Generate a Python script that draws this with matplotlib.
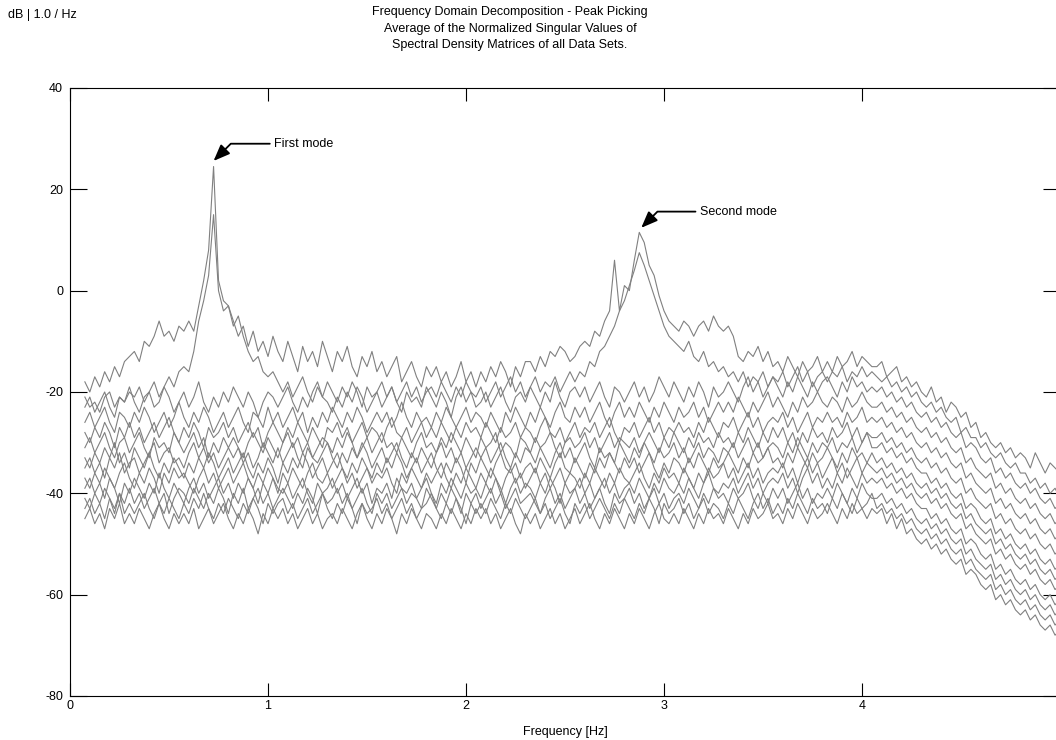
import numpy as np
import matplotlib
matplotlib.use("Agg")
import matplotlib.pyplot as plt

# Frequency grid of the averaged singular value spectra [Hz]
freq_start = 0.075
freq_step = 0.025

# First singular value (both modes)
sv_1 = [
    -18, -20, -17, -19, -16, -18, -15, -17, -14, -13,
    -12, -14, -10, -11, -9, -6, -9, -8, -10, -7,
    -8, -6, -8, -3, 2, 8, 24.5, 2, -2, -3,
    -6, -9, -7, -11, -8, -12, -10, -13, -9, -12,
    -14, -10, -13, -16, -11, -14, -12, -15, -10, -13,
    -16, -12, -14, -11, -15, -17, -13, -15, -12, -16,
    -14, -17, -15, -13, -18, -16, -14, -17, -19, -15,
    -17, -15, -18, -16, -19, -17, -14, -18, -16, -19,
    -16, -18, -15, -17, -14, -16, -19, -15, -17, -14,
    -14, -16, -13, -15, -12, -13, -11, -12, -14, -13,
    -11, -10, -11, -8, -9, -6, -4, 6, -4, 1,
    0, 6, 11.5, 9.5, 5, 3, -1, -4, -6, -7,
    -8, -6, -7, -9, -7, -6, -8, -5, -7, -8,
    -7, -9, -13, -14, -12, -13, -11, -14, -12, -15,
    -14, -16, -13, -15, -17, -14, -16, -15, -13, -16,
    -14, -16, -13, -15, -14, -12, -15, -13, -14, -15,
    -15, -14, -17, -16, -15, -18, -17, -19, -18, -20,
    -21, -19, -22, -21, -24, -22, -23, -25, -24, -27,
    -26, -29, -28, -30, -31, -30, -32, -31, -33, -32,
    -33, -35, -32, -34, -36, -34, -35, -36]

# Second singular value
sv_2 = [
    -21, -23, -22, -24, -21, -20, -23, -21, -22, -20,
    -21, -19, -22, -20, -18, -21, -19, -17, -19, -16,
    -15, -16, -12, -6, -2, 3, 15, 0, -4, -3,
    -7, -5, -9, -12, -14, -13, -16, -17, -16, -18,
    -20, -18, -21, -19, -17, -20, -22, -19, -21, -18,
    -20, -22, -19, -21, -18, -20, -23, -19, -21, -20,
    -18, -21, -19, -22, -20, -18, -21, -19, -22, -20,
    -19, -21, -18, -20, -22, -19, -21, -18, -20, -21,
    -19, -22, -20, -18, -21, -19, -17, -20, -18, -21,
    -19, -17, -20, -18, -19, -17, -20, -18, -16, -18,
    -16, -17, -14, -15, -12, -11, -9, -7, -4, -2,
    1, 4, 7.5, 5, 2, -1, -4, -7, -9, -10,
    -11, -12, -10, -13, -14, -12, -15, -14, -16, -15,
    -17, -16, -18, -16, -19, -17, -18, -16, -19, -17,
    -18, -16, -19, -17, -15, -18, -16, -19, -17, -16,
    -18, -16, -17, -15, -18, -16, -17, -15, -17, -16,
    -17, -18, -17, -19, -18, -20, -19, -21, -20, -22,
    -23, -22, -24, -23, -25, -26, -25, -28, -27, -29,
    -29, -31, -30, -32, -33, -32, -34, -35, -34, -36,
    -36, -38, -37, -39, -38, -40, -39, -41]

# Remaining singular values (noise floor)
sv_3 = [
    -23, -21, -24, -22, -20, -23, -25, -21, -22, -19,
    -22, -24, -21, -20, -23, -22, -19, -21, -24, -22,
    -20, -23, -21, -18, -22, -24, -21, -23, -20, -22,
    -19, -21, -23, -20, -22, -25, -22, -20, -21, -23,
    -21, -19, -22, -24, -21, -23, -20, -18, -21, -22,
    -24, -21, -23, -20, -22, -19, -21, -24, -22, -20,
    -23, -21, -19, -22, -24, -20, -22, -21, -23, -19,
    -21, -23, -20, -22, -25, -21, -19, -22, -20, -23,
    -22, -20, -23, -21, -19, -22, -24, -21, -20, -22,
    -19, -21, -23, -20, -22, -18, -21, -23, -20, -19,
    -21, -19, -22, -20, -18, -21, -23, -19, -20, -22,
    -20, -18, -21, -19, -22, -20, -17, -19, -21, -18,
    -20, -22, -19, -21, -18, -20, -23, -19, -21, -20,
    -18, -20, -22, -19, -17, -20, -18, -21, -19, -17,
    -19, -21, -18, -20, -17, -19, -21, -18, -20, -18,
    -17, -19, -21, -18, -20, -17, -19, -18, -20, -19,
    -20, -19, -21, -20, -22, -21, -23, -22, -24, -25,
    -24, -26, -25, -27, -26, -28, -29, -28, -31, -30,
    -31, -33, -34, -33, -36, -35, -37, -36, -38, -39,
    -38, -40, -39, -41, -42, -41, -43, -42]

sv_4 = [
    -26, -24, -27, -25, -23, -26, -28, -24, -25, -27,
    -24, -26, -23, -25, -28, -26, -24, -27, -25, -22,
    -25, -27, -24, -26, -23, -25, -28, -26, -24, -27,
    -25, -23, -26, -28, -24, -25, -27, -23, -26, -24,
    -27, -25, -23, -26, -24, -28, -25, -27, -24, -26,
    -23, -25, -27, -24, -26, -23, -25, -28, -26, -24,
    -26, -24, -27, -25, -22, -25, -27, -24, -26, -25,
    -27, -24, -26, -23, -25, -27, -25, -23, -26, -24,
    -25, -27, -24, -26, -28, -24, -26, -23, -25, -27,
    -24, -26, -23, -25, -27, -24, -22, -25, -26, -23,
    -25, -23, -26, -24, -22, -25, -27, -24, -22, -25,
    -23, -25, -22, -24, -26, -23, -25, -22, -24, -26,
    -23, -25, -24, -22, -25, -23, -26, -24, -22, -24,
    -22, -24, -21, -23, -25, -22, -24, -22, -20, -23,
    -21, -23, -25, -22, -24, -21, -23, -22, -20, -22,
    -23, -21, -22, -24, -21, -23, -22, -20, -22, -23,
    -23, -22, -24, -23, -25, -24, -26, -25, -27, -28,
    -27, -29, -28, -30, -29, -31, -32, -31, -34, -33,
    -35, -36, -37, -36, -39, -38, -40, -39, -41, -42,
    -41, -43, -42, -44, -45, -44, -46, -45]

sv_5 = [
    -28, -30, -27, -29, -26, -28, -31, -27, -29, -26,
    -29, -27, -30, -28, -26, -29, -27, -25, -28, -30,
    -27, -29, -26, -28, -31, -27, -29, -28, -26, -29,
    -27, -30, -28, -26, -29, -27, -31, -28, -26, -28,
    -30, -27, -29, -26, -28, -30, -27, -29, -31, -27,
    -28, -26, -29, -27, -30, -28, -26, -29, -27, -28,
    -30, -27, -25, -28, -29, -27, -30, -28, -26, -29,
    -27, -29, -26, -28, -30, -27, -29, -26, -28, -27,
    -29, -26, -28, -30, -27, -29, -28, -26, -29, -27,
    -28, -30, -27, -25, -28, -29, -27, -30, -28, -26,
    -29, -27, -28, -26, -29, -27, -25, -28, -30, -27,
    -28, -26, -29, -27, -25, -28, -26, -29, -27, -28,
    -26, -28, -27, -29, -26, -28, -25, -27, -29, -26,
    -27, -25, -28, -26, -24, -27, -25, -28, -26, -25,
    -26, -24, -27, -25, -28, -26, -24, -27, -25, -26,
    -24, -26, -25, -27, -24, -26, -25, -23, -26, -25,
    -26, -25, -27, -26, -28, -27, -29, -28, -30, -31,
    -30, -32, -31, -33, -32, -34, -35, -34, -37, -36,
    -38, -39, -40, -39, -42, -41, -43, -42, -44, -45,
    -44, -46, -45, -47, -48, -47, -49, -48]

sv_6 = [
    -31, -29, -32, -30, -28, -31, -33, -30, -29, -32,
    -30, -28, -31, -33, -29, -31, -30, -32, -28, -30,
    -32, -30, -28, -31, -29, -33, -30, -32, -29, -31,
    -29, -31, -33, -30, -28, -30, -32, -29, -31, -33,
    -30, -28, -31, -29, -32, -30, -33, -31, -29, -30,
    -32, -29, -31, -28, -30, -33, -31, -29, -32, -30,
    -28, -31, -30, -32, -29, -31, -33, -30, -28, -31,
    -30, -32, -29, -31, -28, -30, -32, -29, -31, -33,
    -29, -31, -30, -28, -32, -30, -31, -33, -29, -30,
    -32, -29, -31, -30, -28, -31, -33, -30, -29, -31,
    -30, -28, -31, -29, -32, -30, -28, -31, -29, -30,
    -31, -29, -32, -30, -28, -30, -32, -29, -31, -28,
    -30, -32, -29, -31, -28, -30, -29, -31, -28, -30,
    -29, -31, -28, -30, -27, -29, -31, -28, -30, -27,
    -29, -27, -30, -28, -31, -28, -30, -27, -29, -28,
    -30, -27, -29, -28, -26, -29, -27, -30, -28, -29,
    -29, -28, -30, -29, -31, -30, -32, -31, -33, -34,
    -33, -35, -34, -36, -35, -37, -38, -37, -40, -39,
    -41, -42, -43, -42, -45, -44, -46, -45, -47, -48,
    -47, -49, -48, -50, -51, -50, -52, -51]

sv_7 = [
    -33, -35, -32, -34, -31, -33, -30, -34, -32, -35,
    -31, -33, -35, -32, -30, -34, -32, -31, -34, -33,
    -35, -32, -30, -33, -31, -34, -32, -35, -33, -31,
    -33, -31, -34, -32, -35, -33, -30, -32, -34, -31,
    -34, -32, -30, -33, -35, -31, -33, -34, -32, -30,
    -33, -35, -32, -34, -31, -33, -30, -32, -35, -33,
    -31, -34, -32, -30, -33, -35, -32, -34, -31, -33,
    -35, -32, -30, -33, -31, -34, -32, -35, -33, -31,
    -33, -31, -34, -32, -30, -33, -35, -32, -34, -31,
    -32, -34, -31, -33, -35, -32, -30, -33, -31, -34,
    -32, -30, -33, -35, -31, -33, -32, -34, -30, -32,
    -34, -31, -33, -30, -32, -34, -31, -33, -32, -30,
    -33, -31, -34, -32, -30, -33, -31, -32, -34, -31,
    -32, -30, -33, -31, -29, -32, -30, -33, -31, -30,
    -31, -33, -30, -32, -29, -31, -33, -30, -32, -30,
    -31, -29, -32, -30, -31, -29, -32, -30, -28, -31,
    -31, -30, -32, -31, -33, -32, -34, -33, -35, -36,
    -36, -38, -37, -39, -38, -40, -41, -40, -43, -42,
    -43, -45, -46, -45, -48, -47, -49, -48, -50, -51,
    -50, -52, -51, -53, -54, -53, -55, -54]

sv_8 = [
    -35, -33, -36, -34, -37, -33, -35, -32, -36, -34,
    -33, -36, -34, -32, -35, -37, -34, -36, -33, -35,
    -37, -34, -36, -33, -35, -32, -34, -37, -35, -33,
    -36, -34, -32, -35, -37, -34, -36, -33, -35, -38,
    -34, -36, -33, -35, -32, -34, -37, -35, -33, -36,
    -34, -32, -35, -37, -34, -36, -33, -35, -37, -34,
    -36, -33, -35, -32, -34, -37, -35, -33, -36, -34,
    -32, -35, -37, -34, -36, -33, -35, -38, -34, -36,
    -33, -35, -37, -34, -32, -35, -36, -34, -37, -35,
    -34, -36, -33, -35, -37, -34, -32, -35, -36, -33,
    -35, -37, -34, -36, -33, -35, -32, -34, -36, -33,
    -35, -33, -36, -34, -32, -35, -37, -34, -36, -33,
    -34, -36, -33, -35, -32, -34, -36, -33, -35, -34,
    -32, -34, -36, -33, -35, -32, -34, -33, -31, -34,
    -33, -35, -32, -34, -31, -33, -35, -32, -34, -33,
    -31, -33, -35, -32, -34, -31, -33, -32, -34, -32,
    -34, -33, -35, -34, -36, -35, -37, -36, -38, -39,
    -38, -40, -39, -41, -40, -42, -43, -42, -45, -44,
    -46, -47, -48, -47, -50, -49, -51, -50, -52, -53,
    -52, -54, -53, -55, -56, -55, -57, -56]

sv_9 = [
    -37, -39, -36, -38, -35, -37, -39, -36, -34, -37,
    -39, -36, -38, -35, -37, -40, -36, -38, -35, -37,
    -36, -38, -40, -37, -35, -38, -36, -39, -37, -35,
    -38, -36, -34, -37, -39, -36, -38, -35, -37, -40,
    -36, -38, -35, -37, -39, -36, -34, -37, -38, -36,
    -39, -37, -35, -38, -36, -39, -37, -35, -38, -36,
    -37, -35, -38, -40, -36, -38, -35, -37, -39, -36,
    -38, -36, -34, -37, -39, -36, -38, -35, -37, -39,
    -36, -38, -35, -37, -40, -37, -35, -38, -36, -39,
    -37, -35, -38, -36, -39, -37, -35, -38, -36, -37,
    -39, -36, -38, -35, -37, -39, -36, -38, -35, -37,
    -38, -36, -34, -37, -39, -36, -38, -35, -37, -36,
    -38, -35, -37, -39, -36, -38, -35, -37, -36, -34,
    -37, -35, -38, -36, -34, -37, -35, -38, -36, -35,
    -36, -34, -37, -35, -38, -35, -33, -36, -34, -37,
    -35, -33, -36, -34, -37, -35, -33, -36, -34, -35,
    -36, -35, -37, -36, -38, -37, -39, -38, -40, -41,
    -40, -42, -41, -43, -42, -44, -45, -44, -47, -46,
    -48, -49, -50, -49, -52, -51, -53, -52, -54, -55,
    -54, -56, -55, -57, -58, -57, -59, -58]

sv_10 = [
    -39, -37, -40, -38, -41, -37, -39, -42, -38, -40,
    -37, -39, -41, -38, -40, -36, -39, -41, -38, -40,
    -42, -39, -37, -40, -38, -41, -39, -37, -40, -38,
    -41, -38, -40, -37, -39, -42, -38, -40, -37, -39,
    -40, -38, -41, -39, -37, -40, -42, -38, -40, -39,
    -37, -40, -38, -41, -39, -37, -40, -38, -42, -39,
    -40, -38, -41, -37, -39, -40, -38, -41, -39, -37,
    -40, -42, -38, -40, -37, -39, -41, -38, -40, -39,
    -41, -38, -40, -37, -39, -42, -39, -37, -40, -38,
    -39, -41, -38, -40, -37, -39, -42, -38, -40, -39,
    -37, -40, -38, -41, -39, -37, -40, -38, -41, -39,
    -38, -40, -37, -39, -41, -38, -40, -37, -39, -40,
    -38, -40, -37, -39, -41, -38, -36, -39, -40, -38,
    -39, -37, -40, -38, -36, -39, -37, -40, -38, -37,
    -38, -36, -39, -37, -40, -37, -35, -38, -36, -39,
    -37, -39, -36, -38, -35, -37, -39, -36, -38, -37,
    -38, -37, -39, -38, -40, -39, -41, -40, -42, -43,
    -43, -45, -44, -46, -45, -47, -48, -47, -50, -49,
    -50, -52, -53, -52, -55, -54, -56, -55, -57, -58,
    -57, -59, -58, -60, -61, -60, -62, -61]

sv_11 = [
    -41, -43, -40, -42, -39, -41, -44, -40, -42, -39,
    -42, -40, -43, -41, -39, -42, -40, -44, -41, -39,
    -40, -42, -39, -41, -43, -40, -42, -39, -41, -44,
    -40, -42, -39, -43, -41, -39, -42, -40, -43, -41,
    -39, -41, -43, -40, -42, -39, -41, -44, -40, -42,
    -41, -39, -42, -40, -43, -41, -39, -42, -44, -40,
    -42, -40, -43, -41, -39, -42, -40, -41, -43, -39,
    -41, -43, -40, -42, -39, -41, -44, -40, -42, -40,
    -43, -41, -39, -42, -40, -43, -41, -39, -42, -41,
    -40, -42, -44, -41, -39, -42, -40, -43, -41, -39,
    -42, -40, -43, -41, -39, -42, -44, -40, -42, -41,
    -39, -42, -40, -43, -41, -39, -42, -40, -43, -41,
    -40, -42, -39, -41, -43, -40, -42, -39, -41, -40,
    -42, -39, -41, -40, -38, -41, -43, -40, -42, -39,
    -41, -39, -42, -40, -38, -41, -39, -42, -40, -41,
    -39, -41, -38, -40, -42, -39, -41, -38, -40, -41,
    -41, -40, -42, -41, -43, -42, -44, -43, -45, -46,
    -45, -47, -46, -48, -47, -49, -50, -49, -52, -51,
    -53, -54, -55, -54, -57, -56, -58, -57, -59, -60,
    -59, -61, -60, -62, -63, -62, -64, -63]

sv_12 = [
    -43, -41, -44, -42, -45, -41, -43, -40, -44, -42,
    -44, -42, -40, -43, -45, -42, -44, -41, -43, -45,
    -42, -44, -41, -43, -40, -43, -45, -42, -44, -41,
    -43, -45, -42, -44, -41, -43, -46, -42, -44, -42,
    -41, -44, -42, -45, -43, -41, -44, -42, -40, -43,
    -45, -42, -44, -41, -43, -46, -42, -44, -43, -41,
    -44, -42, -45, -43, -41, -44, -42, -45, -43, -42,
    -40, -43, -45, -42, -44, -41, -43, -46, -42, -44,
    -42, -44, -41, -43, -45, -42, -44, -41, -43, -45,
    -43, -41, -44, -42, -45, -43, -41, -44, -46, -42,
    -44, -42, -45, -43, -41, -43, -45, -42, -44, -41,
    -43, -45, -42, -44, -41, -43, -46, -42, -44, -43,
    -41, -44, -42, -45, -43, -41, -44, -42, -43, -45,
    -42, -44, -41, -43, -45, -42, -40, -43, -41, -44,
    -42, -44, -41, -43, -40, -42, -44, -41, -43, -42,
    -44, -41, -43, -40, -42, -44, -41, -43, -42, -40,
    -43, -42, -44, -43, -45, -44, -46, -45, -47, -48,
    -47, -49, -48, -50, -49, -51, -52, -51, -54, -53,
    -55, -56, -57, -56, -59, -58, -60, -59, -61, -62,
    -61, -63, -62, -64, -65, -64, -66, -65]

sv_13 = [
    -45, -43, -46, -44, -47, -43, -45, -42, -46, -44,
    -46, -43, -45, -47, -44, -42, -45, -47, -44, -46,
    -44, -46, -43, -47, -45, -43, -46, -44, -42, -45,
    -47, -44, -46, -43, -45, -48, -44, -46, -43, -45,
    -43, -46, -44, -47, -45, -43, -46, -44, -47, -45,
    -44, -46, -43, -45, -47, -44, -42, -45, -47, -44,
    -46, -43, -45, -48, -44, -46, -43, -45, -47, -44,
    -45, -47, -44, -46, -43, -45, -47, -44, -46, -43,
    -45, -43, -46, -44, -47, -45, -43, -46, -48, -44,
    -46, -44, -47, -45, -43, -46, -44, -47, -45, -43,
    -46, -44, -42, -45, -47, -44, -46, -43, -45, -47,
    -44, -46, -43, -45, -47, -44, -42, -45, -46, -44,
    -46, -43, -45, -47, -44, -46, -43, -45, -44, -46,
    -43, -45, -47, -44, -46, -43, -45, -44, -42, -45,
    -44, -46, -43, -45, -42, -44, -46, -43, -45, -44,
    -42, -44, -46, -43, -45, -42, -44, -43, -45, -43,
    -44, -43, -46, -44, -47, -45, -48, -47, -49, -50,
    -49, -51, -50, -52, -51, -53, -54, -53, -56, -55,
    -56, -58, -59, -58, -61, -60, -62, -61, -63, -64,
    -63, -65, -64, -66, -67, -66, -68, -67]

singular_values = [sv_1, sv_2, sv_3, sv_4, sv_5, sv_6, sv_7, sv_8,
                   sv_9, sv_10, sv_11, sv_12, sv_13]

# Picked peaks: (label, frequency, dB, text frequency, text dB)
peaks = [("First mode", 0.725, 25.6, 1.03, 29.0),
         ("Second mode", 2.885, 12.4, 3.18, 15.6)]

xticks = [0, 1, 2, 3, 4, 5]
yticks = [-80, -60, -40, -20, 0, 20, 40]

title = ("Frequency Domain Decomposition - Peak Picking\n"
         "Average of the Normalized Singular Values of\n"
         "Spectral Density Matrices of all Data Sets.")


def plot_fdd(values, outfile="out.png"):
    """ Draw the FDD singular value plot with the picked peaks.
    """
    plt.rcParams["font.family"] = ["Liberation Sans", "DejaVu Sans"]
    plt.rcParams["font.size"] = 9
    plt.rcParams["axes.unicode_minus"] = False

    fig = plt.figure(figsize=(10.56, 7.4), dpi=100)
    ax = fig.add_axes([0.0663, 0.0595, 0.9375, 0.8216])

    for sv in values:
        freq = freq_start + freq_step * np.arange(len(sv))
        ax.plot(freq, sv, color="#808080", linewidth=0.8)

    for label, fx, fy, tx, ty in peaks:
        ax.annotate(
            label, xy=(fx, fy), xytext=(tx, ty), ha="left", va="center",
            fontsize=9,
            arrowprops=dict(arrowstyle="-|>,head_length=1.0,head_width=0.4",
                            connectionstyle="angle,angleA=0,angleB=45,rad=0",
                            color="black", linewidth=1.3, shrinkA=1,
                            shrinkB=0, mutation_scale=10))

    ax.set_xlim(0, 5)
    ax.set_ylim(-80, 40)
    ax.set_xticks(xticks)
    ax.set_yticks(yticks)
    ax.tick_params(axis="x", direction="in", top=True, length=9.4,
                   width=0.8, pad=3)
    ax.tick_params(axis="y", direction="in", right=True, length=12.5,
                   width=0.8, pad=5)
    for spine in ax.spines.values():
        spine.set_linewidth(0.8)
    ax.set_xlabel("Frequency [Hz]", labelpad=10)

    fig.text(0.483, 0.992, title, ha="center", va="top", fontsize=9,
             linespacing=1.53)
    fig.text(0.008, 0.988, "dB | 1.0 / Hz", ha="left", va="top", fontsize=9)

    fig.savefig(outfile, dpi=100)
    return fig


if __name__ == "__main__":
    plot_fdd(singular_values)
